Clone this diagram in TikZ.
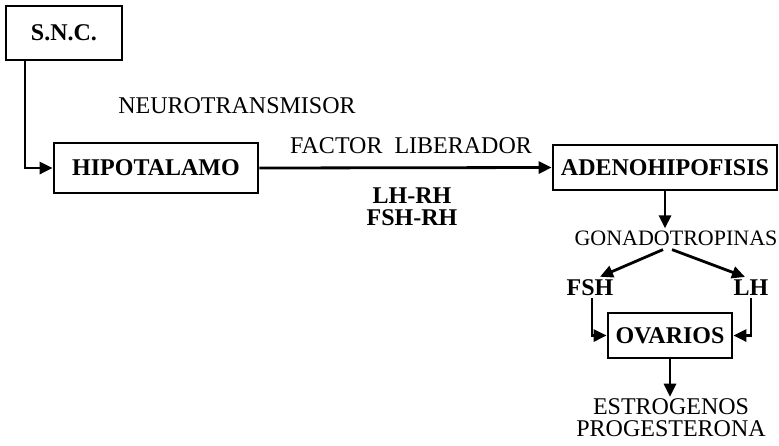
\documentclass[tikz,border=0pt]{standalone}
\usepackage{fontspec}
\setmainfont{Liberation Serif}
\usetikzlibrary{arrows.meta}
\begin{document}
\begin{tikzpicture}[x=1pt,y=-1pt,
  every node/.style={font=\fontsize{24}{22}\selectfont, inner sep=2pt},
  box/.style={draw, line width=2.7pt, font=\fontsize{24}{22}\selectfont\bfseries, inner sep=0pt},
  lbl/.style={align=center},
  arr/.style={line width=2.8pt, -{Triangle[length=13pt,width=12pt]}},
  ln/.style={line width=2.8pt}]
\useasboundingbox (0,0) rectangle (779,445);
\node[box, minimum width=116pt, minimum height=54pt] (snc) at (64,33) {S.N.C.};
\node[box, minimum width=204pt, minimum height=50pt] (hipo) at (156,168) {HIPOTALAMO};
\node[box, minimum width=224pt, minimum height=45pt] (adeno) at (665,167.5) {ADENOHIPOFISIS};
\node[box, minimum width=124pt, minimum height=45pt] (ovar) at (670,335.5) {OVARIOS};
\node[lbl] (neuro) at (237,106) {NEUROTRANSMISOR};
\node[lbl] (factor) at (411,146) {FACTOR\ \ LIBERADOR};
\node[lbl, font=\fontsize{24}{22}\selectfont\bfseries] (lhrh) at (412,207) {LH-RH\\FSH-RH};
\node[lbl, font=\fontsize{22}{22}\selectfont] (gonado) at (676,238) {GONADOTROPINAS};
\node[lbl, font=\fontsize{24}{22}\selectfont\bfseries] (fsh) at (590,288) {FSH};
\node[lbl, font=\fontsize{24}{22}\selectfont\bfseries] (lh) at (751,288) {LH};
\node[lbl] (estro) at (671,418) {ESTROGENOS\\PROGESTERONA};
\coordinate (sncout) at ([xshift=-39pt]snc.south);
\draw[arr] (sncout) |- (hipo.west);
\draw[arr] (hipo.east) -- (adeno.west);
\draw[arr] (adeno.south) -- (adeno.south |- gonado.north);
\coordinate (gl) at ([xshift=-13pt,yshift=-2pt]gonado.south);
\coordinate (gr) at ([xshift=-4pt,yshift=-2pt]gonado.south);
\draw[arr] (gl) -- ([xshift=10pt,yshift=1pt]fsh.north);
\draw[arr] (gr) -- ([xshift=-6pt,yshift=1pt]lh.north);
\draw[arr] ([xshift=2pt]fsh.south) |- (ovar.west);
\draw[arr] (lh.south) |- (ovar.east);
\draw[arr] (ovar.south) -- (ovar.south |- estro.north);
\end{tikzpicture}
\end{document}
